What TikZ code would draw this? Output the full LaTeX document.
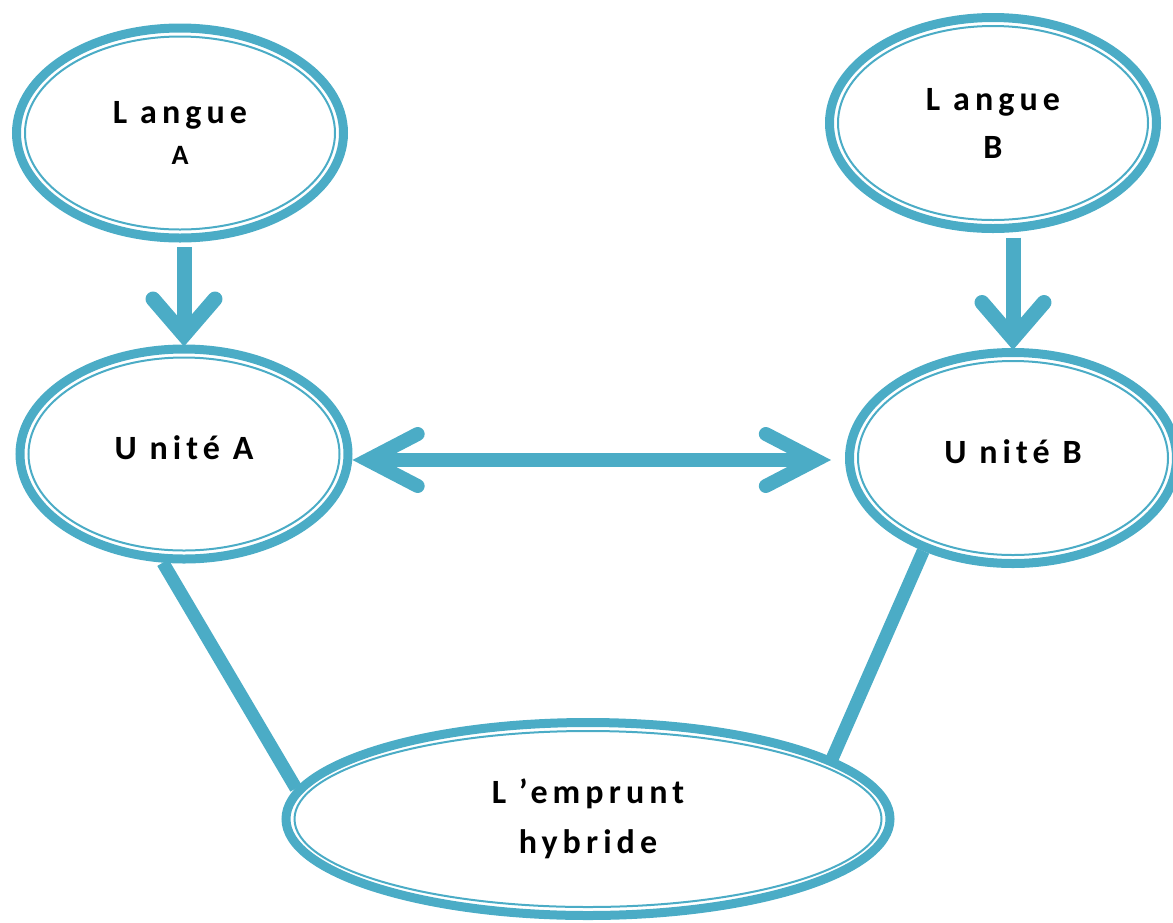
\documentclass[tikz,border=0pt]{standalone}
\usepackage{fontspec}
\setmainfont{Carlito}
\usetikzlibrary{shapes.geometric,arrows.meta,calc}
\definecolor{bleu}{HTML}{4BACC6}

\begin{document}
\begin{tikzpicture}[
            x=1pt, y=-1pt,
            bulle/.style={shape=ellipse, draw=bleu, line width=9pt, inner sep=0pt, align=center,
                font={\bfseries\fontsize{34}{41}\selectfont\addfontfeature{LetterSpace=15}},
                path picture={\draw[bleu, line width=2pt]
                    let \p1=($(path picture bounding box.north east)-(path picture bounding box.center)$)
                    in (path picture bounding box.center) ellipse [x radius=\x1-8.5pt, y radius=\y1-8.5pt];}},
            fleche/.style={draw=bleu, line width=15pt, shorten <=4.5pt, shorten >=-2pt,
                -{Straight Barb[length=36pt, width=62pt, line cap=round]}},
            doublefleche/.style={draw=bleu, line width=14pt,
                {Straight Barb[length=50pt, width=52pt, line cap=round]}-{Straight Barb[length=50pt, width=52pt, line cap=round]}},
            lien/.style={draw=bleu, line width=13pt},
        ]
        \useasboundingbox (0,0) rectangle (1173,922);

        \node[bulle, minimum width=327pt, minimum height=210pt] (langueA) at (180,133) {L angue\\{\fontsize{28}{30}\selectfont A}};
        \node[bulle, minimum width=327pt, minimum height=211pt] (langueB) at (993,123) {L angue\\[7pt]B};
        \node[bulle, minimum width=328pt, minimum height=210pt] (uniteA) at (184,454) {\raisebox{13pt}{U nité A}};
        \node[bulle, minimum width=327pt, minimum height=211pt] (uniteB) at (1013,458) {\raisebox{12pt}{U nité B}};
        \node[bulle, minimum width=604pt, minimum height=193pt] (emprunt) at (588,819) {L ’emprunt\\[9pt]hybride};

        \draw[fleche] (langueA.south -| uniteA.north) -- (uniteA.north);
        \draw[fleche] (langueB.south -| uniteB.north) -- (uniteB.north);
        \draw[doublefleche, shorten <=0pt, shorten >=14pt] ([yshift=-6pt]uniteA.east) -- ([yshift=-6pt]uniteA.east -| uniteB.west);
        \draw[lien] (uniteA.259) -- (emprunt.174);
        \draw[lien] (uniteB.226) -- (emprunt.14);

    \end{tikzpicture}
\end{document}
